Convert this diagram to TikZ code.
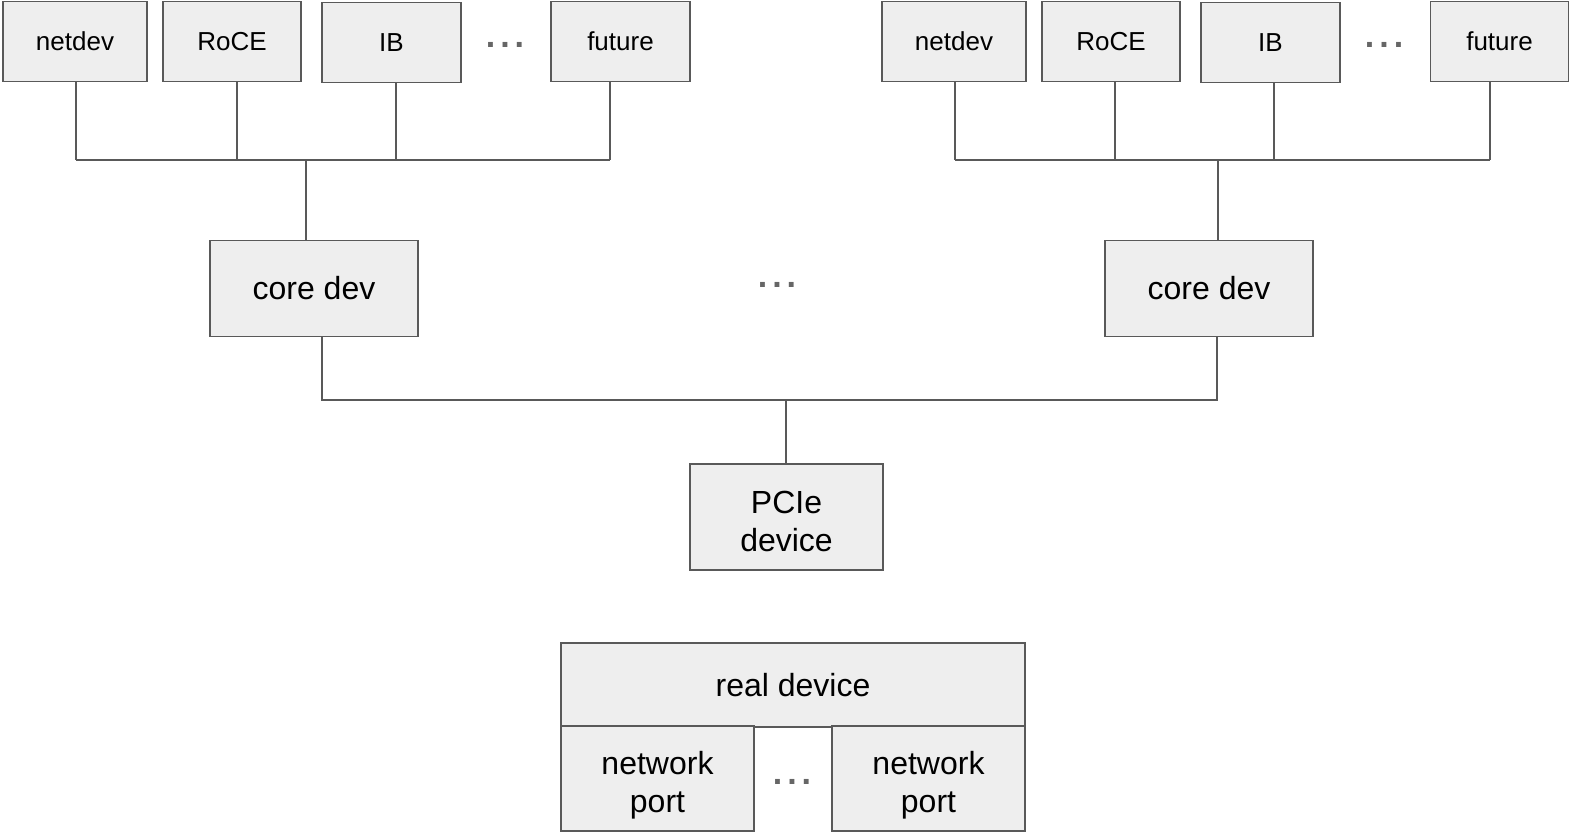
\documentclass[tikz,border=0pt]{standalone}
\usepackage{fontspec}
\setmainfont{Liberation Sans}
\definecolor{boxfill}{HTML}{EEEEEE}
\definecolor{edgec}{HTML}{595959}
\definecolor{dotc}{HTML}{666666}
\newcommand{\mydots}{.\hspace{5pt}.\hspace{5pt}.}
\tikzset{
  base/.style={draw=edgec, line width=1.8pt, fill=boxfill, inner sep=0pt, align=center, text=black},
  smallbox/.style={base, minimum width=#1, minimum height=80pt, font=\fontsize{26}{30}\selectfont},
  bigbox/.style={base, font=\fontsize{32}{38}\selectfont},
  lbl/.style={align=center, inner sep=0pt, text=black, font=\fontsize{32}{38}\selectfont},
  dots/.style={text=dotc, font=\fontsize{34}{38}\selectfont\bfseries, inner sep=0pt},
  conn/.style={draw=edgec, line width=1.8pt},
}
\begin{document}
\begin{tikzpicture}[x=1pt,y=-1pt]
\useasboundingbox (0,0) rectangle (1570,834);
% top left group
\node[smallbox=144pt] (nd1) at (75,41.5) {netdev};
\node[smallbox=138pt] (rc1) at (232,41.5) {RoCE};
\node[smallbox=139pt] (ib1) at (391.5,42.5) {IB};
\node[dots] (dt1) at (505,45) {\mydots};
\node[smallbox=139pt] (fu1) at (620.5,41.5) {future};
% top right group
\node[smallbox=144pt] (nd2) at (954,41.5) {netdev};
\node[smallbox=138pt] (rc2) at (1111,41.5) {RoCE};
\node[smallbox=139pt] (ib2) at (1270.5,42.5) {IB};
\node[dots] (dt2) at (1384,45) {\mydots};
\node[smallbox=138pt] (fu2) at (1499.5,41.5) {future};
% core devs
\node[bigbox, minimum width=208pt, minimum height=96pt] (cd1) at (314,288.5) {core dev};
\node[bigbox, minimum width=208pt, minimum height=96pt] (cd2) at (1209,288.5) {core dev};
\node[dots] (dtm) at (777,285) {\mydots};
% PCIe
\node[bigbox, minimum width=193pt, minimum height=106pt,
      label={[lbl, yshift=-4pt]center:PCIe\\device}] (pci) at (786.5,517) {};
% real device
\node[bigbox, minimum width=464pt, minimum height=84pt] (real) at (793,685) {real device};
\node[bigbox, minimum width=193pt, minimum height=105pt,
      label={[lbl, yshift=-7pt]center:network\\port}] (np1) at (657.5,778.5) {};
\node[bigbox, minimum width=193pt, minimum height=105pt,
      label={[lbl, yshift=-7pt]center:network\\port}] (np2) at (928.5,778.5) {};
\node[dots] (dtb) at (792,782) {\mydots};
% left bus
\coordinate (bA1) at (76,160);
\coordinate (bA2) at (237,160);
\coordinate (bA3) at (396,160);
\coordinate (bA4) at (610,160);
\coordinate (bA0) at (306,160);
\draw[conn] (bA1) -- (bA4);
\draw[conn] (nd1.south -| bA1) -- (bA1);
\draw[conn] (rc1.south -| bA2) -- (bA2);
\draw[conn] (ib1.south -| bA3) -- (bA3);
\draw[conn] (fu1.south -| bA4) -- (bA4);
\draw[conn] (bA0) -- (cd1.north -| bA0);
% right bus
\coordinate (bB1) at (955,160);
\coordinate (bB2) at (1115,160);
\coordinate (bB3) at (1274,160);
\coordinate (bB4) at (1490,160);
\coordinate (bB0) at (1218,160);
\draw[conn] (bB1) -- (bB4);
\draw[conn] (nd2.south -| bB1) -- (bB1);
\draw[conn] (rc2.south -| bB2) -- (bB2);
\draw[conn] (ib2.south -| bB3) -- (bB3);
\draw[conn] (fu2.south -| bB4) -- (bB4);
\draw[conn] (bB0) -- (cd2.north -| bB0);
% middle bus
\coordinate (bM1) at (322,400);
\coordinate (bM2) at (1217,400);
\coordinate (bM0) at (786,400);
\draw[conn] (cd1.south -| bM1) -- (bM1) -- (bM2) -- (cd2.south -| bM2);
\draw[conn] (bM0) -- (pci.north -| bM0);
\end{tikzpicture}
\end{document}
